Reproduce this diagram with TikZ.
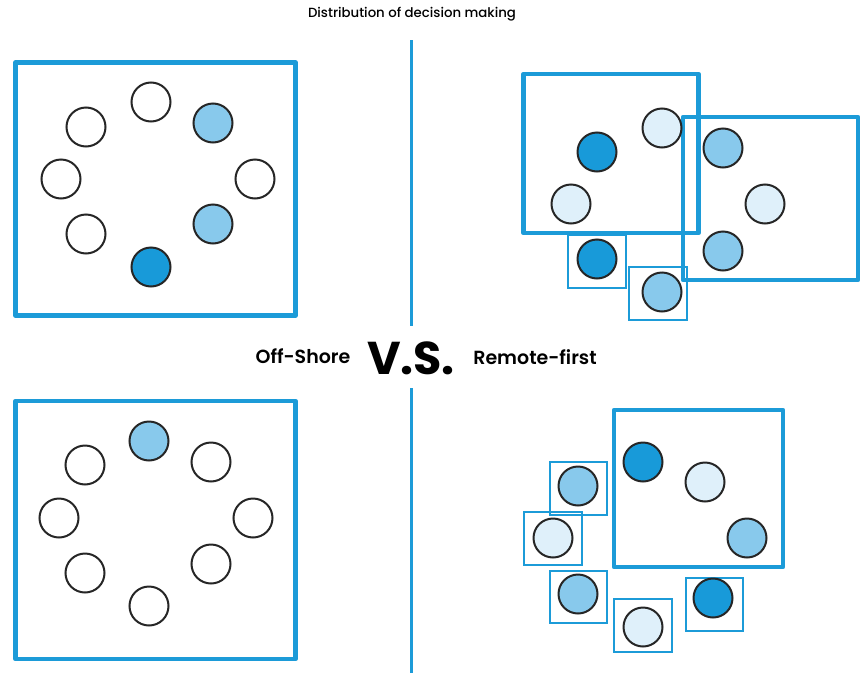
\documentclass[tikz,border=0pt]{standalone}
\usepackage{fontspec}
\setmainfont{Poppins}
\newfontfamily\medfont{Poppins Medium}
\newfontfamily\semifont{Poppins SemiBold}
\definecolor{frame}{HTML}{1C9BD8}
\definecolor{dark}{HTML}{189AD9}
\definecolor{mid}{HTML}{88C9EC}
\definecolor{light}{HTML}{DFF0FA}
\definecolor{ink}{HTML}{262626}
\tikzset{
  bigbox/.style={draw=frame, line width=4.5pt, line join=round, rectangle, inner sep=0pt},
  smallbox/.style={draw=frame, line width=1.2pt, rectangle, inner sep=0pt},
  person/.style={circle, draw=ink, line width=2pt, minimum size=39pt, inner sep=0pt},
  pwhite/.style={person, fill=white},
  pdark/.style={person, fill=dark},
  pmid/.style={person, fill=mid},
  plight/.style={person, fill=light},
  divider/.style={draw=frame, line width=3pt},
  label/.style={font=\semifont\fontsize{19}{22}\selectfont},
}
\begin{document}
\begin{tikzpicture}[x=1pt,y=-1pt]
\useasboundingbox (0,0) rectangle (868,675);
% title
\node[font=\medfont\fontsize{13.3}{15}\selectfont] (title) at (412,14) {Distribution of decision making};
% dividers
\coordinate (d1a) at (411,40); \coordinate (d1b) at (411,326);
\coordinate (d2a) at (411,388); \coordinate (d2b) at (411,673);
\draw[divider] (d1a) -- (d1b);
\draw[divider] (d2a) -- (d2b);
% middle labels
\node[label] (off) at (303,356) {Off-Shore};
\node[font=\fontsize{46}{48}\selectfont\bfseries] (vs) at (411,358) {V.S.};
\node[label] (rem) at (535,357) {Remote-first};

% ---------- top left ----------
\node[bigbox, minimum width=280pt, minimum height=253pt] (tlbox) at (155.5,189) {};
\node[pwhite] (tl1) at (151,102) {};
\node[pwhite] (tl2) at (86,127) {};
\node[pmid]   (tl3) at (213,123) {};
\node[pwhite] (tl4) at (61,179) {};
\node[pwhite] (tl5) at (255,179) {};
\node[pwhite] (tl6) at (86,234) {};
\node[pmid]   (tl7) at (213,224) {};
\node[pdark]  (tl8) at (151,267) {};

% ---------- bottom left ----------
\node[bigbox, minimum width=280pt, minimum height=258pt] (blbox) at (155.5,530) {};
\node[pmid]   (bl1) at (149,441) {};
\node[pwhite] (bl2) at (85,465) {};
\node[pwhite] (bl3) at (211,462) {};
\node[pwhite] (bl4) at (59,518) {};
\node[pwhite] (bl5) at (253,518) {};
\node[pwhite] (bl6) at (85,573) {};
\node[pwhite] (bl7) at (211,564) {};
\node[pwhite] (bl8) at (149,606) {};

% ---------- top right ----------
\node[smallbox, minimum width=58pt, minimum height=53pt] (trs1) at (597,261.5) {};
\node[smallbox, minimum width=58pt, minimum height=53pt] (trs2) at (658,293.5) {};
\node[bigbox, minimum width=175pt, minimum height=159pt] (trA) at (611,153.5) {};
\node[bigbox, minimum width=175pt, minimum height=163pt] (trB) at (770.5,198.5) {};
\node[pdark]  (tr1) at (597,152) {};
\node[plight] (tr2) at (662,128) {};
\node[plight] (tr3) at (571,204) {};
\node[pmid]   (tr4) at (723,148) {};
\node[plight] (tr5) at (765,204) {};
\node[pmid]   (tr6) at (723,251) {};
\node[pdark]  (tr7) at (597,259) {};
\node[pmid]   (tr8) at (662,292) {};

% ---------- bottom right ----------
\node[bigbox, minimum width=169pt, minimum height=157pt] (brbox) at (698.5,488.5) {};
\node[smallbox, minimum width=57pt, minimum height=53pt] (brs1) at (578.5,488.5) {};
\node[smallbox, minimum width=58pt, minimum height=53pt] (brs2) at (553,538.5) {};
\node[smallbox, minimum width=57pt, minimum height=52pt] (brs3) at (578.5,597) {};
\node[smallbox, minimum width=58pt, minimum height=53pt] (brs4) at (643,625.5) {};
\node[smallbox, minimum width=57pt, minimum height=53pt] (brs5) at (714.5,604.5) {};
\node[pdark]  (br1) at (643,462) {};
\node[plight] (br2) at (705,482) {};
\node[pmid]   (br3) at (747,538) {};
\node[pmid]   (br4) at (578,486) {};
\node[plight] (br5) at (553,538) {};
\node[pmid]   (br6) at (578,594) {};
\node[plight] (br7) at (643,627) {};
\node[pdark]  (br8) at (713,598) {};
\end{tikzpicture}
\end{document}
